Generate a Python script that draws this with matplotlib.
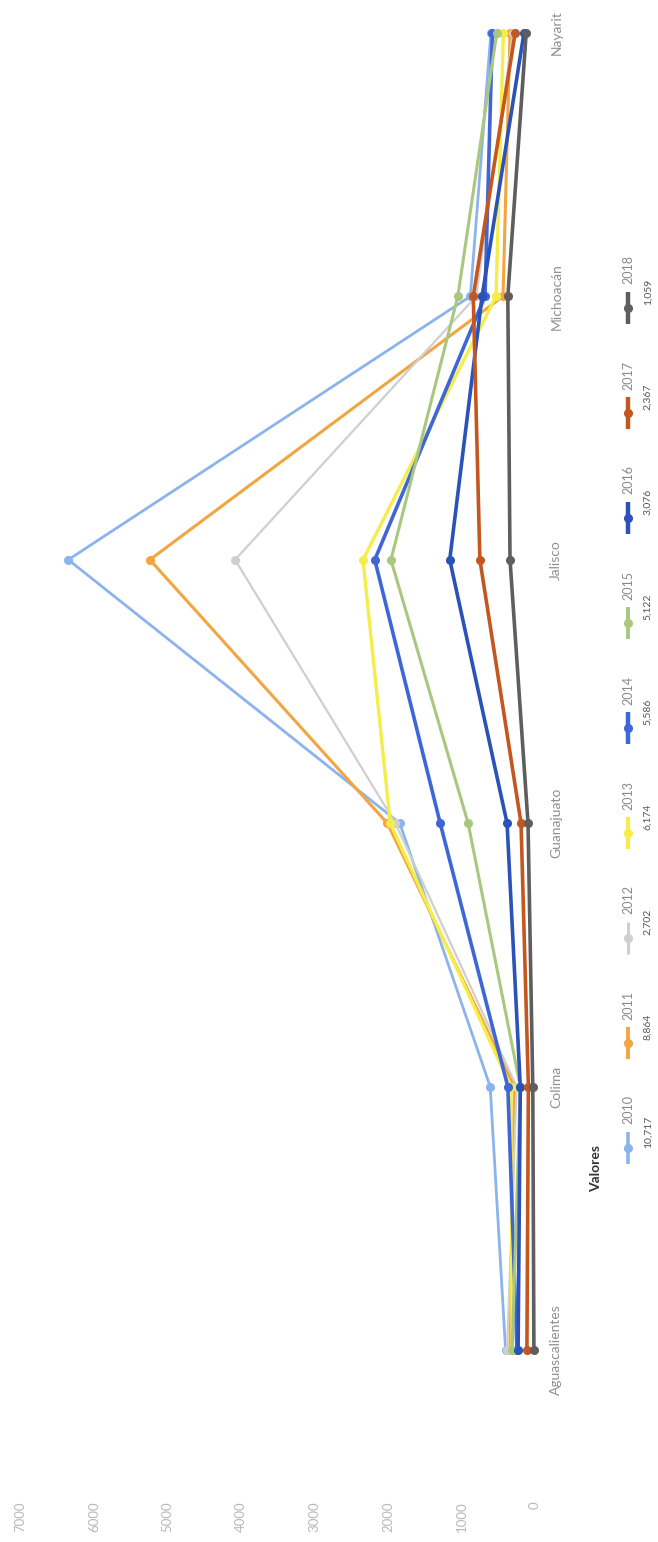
import matplotlib
matplotlib.use("Agg")
import matplotlib.pyplot as plt

# ---------------- data ----------------
categories = ["Aguascalientes", "Colima", "Guanajuato", "Jalisco", "Michoacán", "Nayarit"]
years = ["2010", "2011", "2012", "2013", "2014", "2015", "2016", "2017", "2018"]
totals = ["10,717", "8,864", "2,702", "6,174", "5,586", "5,122", "3,076", "2,367", "1,059"]

v2010 = [400, 610, 1840, 6350, 880, 600]
v2011 = [340, 280, 2010, 5240, 435, 340]
v2012 = [380, 250, 1900, 4080, 800, 300]
v2013 = [310, 330, 1970, 2340, 530, 430]
v2014 = [245, 370, 1290, 2180, 680, 580]
v2015 = [310, 200, 910, 1960, 1050, 520]
v2016 = [230, 200, 380, 1160, 720, 150]
v2017 = [110, 90, 190, 750, 840, 270]
v2018 = [15, 30, 95, 340, 370, 120]
series = [v2010, v2011, v2012, v2013, v2014, v2015, v2016, v2017, v2018]

value_ticks = [0, 1000, 2000, 3000, 4000, 5000, 6000, 7000]

colors = ["#8CB4EC", "#F2A541", "#CFCFCF", "#F5EE4A", "#3F66D6",
          "#A9C77F", "#2A52B8", "#C4571F", "#5E5E5E"]
widths = [2.0, 2.2, 1.6, 2.4, 2.6, 2.2, 2.6, 2.6, 2.6]

plt.rcParams["font.family"] = ["Lato", "DejaVu Sans"]

W, H = 658, 1542
fig = plt.figure(figsize=(W / 100, H / 100), dpi=100)
fig.patch.set_facecolor("white")

# main axes (chart is rotated: values run right->left, categories bottom->top)
x_left_px, x_right_px = 20.5, 535.0
y_top_px, y_bot_px = 0.0, 1481.7
ax = fig.add_axes([x_left_px / W, 1 - y_bot_px / H,
                   (x_right_px - x_left_px) / W, (y_bot_px - y_top_px) / H])
ax.set_xlim(7000, 0)
ax.set_ylim(-0.5, 5.125)
for s in ax.spines.values():
    s.set_visible(False)
ax.patch.set_alpha(0)

ypos = list(range(len(categories)))
for vals, c, lw in zip(series, colors, widths):
    ax.plot(vals, ypos, color=c, lw=lw, marker="o", ms=5.5,
            markeredgecolor=c, clip_on=False, solid_joinstyle="round")

ax.set_xticks(value_ticks)
ax.set_xticklabels([str(t) for t in value_ticks], rotation=90,
                   color="#b8b8b8", fontsize=9.5)
ax.tick_params(axis="x", length=0, pad=14)

ax.yaxis.tick_right()
ax.set_yticks(ypos)
ax.set_yticklabels(categories, rotation=90, va="center",
                   color="#8f8f8f", fontsize=10)
ax.tick_params(axis="y", length=0, pad=11)

# legend (rotated, drawn in pixel space)
lax = fig.add_axes([0, 0, 1, 1])
lax.set_xlim(0, W)
lax.set_ylim(H, 0)
lax.axis("off")
lax.patch.set_alpha(0)

lax.text(596, 1168, "Valores", rotation=90, ha="center", va="center",
         fontsize=10, fontweight="bold", color="#333333")

label_y0, step = 1110, 105
for i, (yr, tot, c, lw) in enumerate(zip(years, totals, colors, widths)):
    yc = label_y0 - step * i
    hy = yc + 38
    lax.plot([628, 628], [hy - 16, hy + 16], color=c, lw=lw + 0.6,
             solid_capstyle="butt")
    lax.plot([628], [hy], marker="o", ms=5.5, color=c)
    lax.text(628, yc, yr, rotation=90, ha="center", va="center",
             fontsize=9, color="#8a8a8a")
    lax.text(648, yc + 22, tot, rotation=90, ha="center", va="center",
             fontsize=7.5, color="#555555")

fig.savefig("out.png", dpi=100, facecolor="white")
